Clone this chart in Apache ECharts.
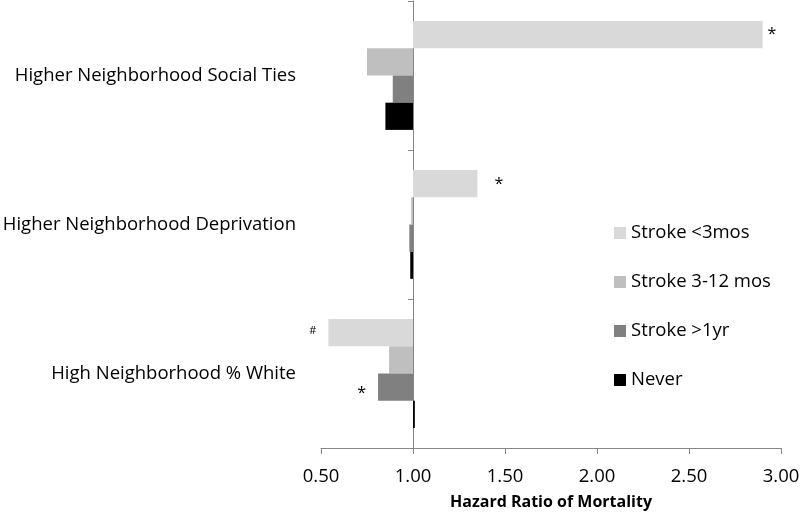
<!DOCTYPE html>
<html>
<head>
<meta charset="utf-8">
<script src="https://cdn.jsdelivr.net/npm/echarts@6/dist/echarts.min.js"></script>
<style>html,body{margin:0;padding:0;background:#fff}#c{width:800px;height:513px}</style>
</head>
<body>
<div id="c"></div>
<script>
// Categories (top to bottom)
var categories = ['Higher Neighborhood Social Ties', 'Higher Neighborhood Deprivation', 'High Neighborhood % White'];
var seriesNames = ['Stroke <3mos', 'Stroke 3-12 mos', 'Stroke >1yr', 'Never'];
// Hazard ratios of mortality
var hrStrokeLt3 = [2.90, 1.35, 0.54];
var hrStroke3to12 = [0.75, 0.99, 0.87];
var hrStrokeGt1 = [0.89, 0.98, 0.81];
var hrNever = [0.85, 0.985, 1.01];
// Significance marks
var markStrokeLt3 = ['*', '*', '#'];
var markStroke3to12 = ['', '', ''];
var markStrokeGt1 = ['', '', '*'];
var markNever = ['', '', ''];
// Axis ticks
var xTicks = [0.5, 1.0, 1.5, 2.0, 2.5, 3.0];
var baseline = 1.0;

var colors = ['#d9d9d9', '#bfbfbf', '#808080', '#000000'];
var allHr = [hrStrokeLt3, hrStroke3to12, hrStrokeGt1, hrNever];
var allMarks = [markStrokeLt3, markStroke3to12, markStrokeGt1, markNever];
// label placement style per [series][category]
var labelStyle = {
  '0-0': {distance: 5, offset: [0, 0]},
  '0-1': {distance: 17, offset: [0, 1]},
  '0-2': {distance: 12, offset: [0, -2]},
  '2-2': {distance: 12, offset: [0, 6]}
};
var FONT = 'Open Sans';

var series = allHr.map(function (arr, si) {
  return {
    name: seriesNames[si],
    type: 'bar',
    barGap: '0%',
    barCategoryGap: '27%',
    itemStyle: {color: colors[si]},
    data: arr.map(function (v, ci) {
      var m = allMarks[si][ci];
      var item = {value: v - baseline};
      if (m) {
        var st = labelStyle[si + '-' + ci] || {distance: 6, offset: [0, 0]};
        item.label = {
          show: true,
          formatter: m,
          position: v >= baseline ? 'right' : 'left',
          distance: st.distance,
          offset: st.offset,
          color: '#000',
          fontFamily: FONT,
          fontSize: m === '#' ? 11 : 16
        };
      }
      return item;
    })
  };
});

var chart = echarts.init(document.getElementById('c'), null, {renderer: 'canvas'});
chart.setOption({
  animation: false,
  backgroundColor: '#fff',
  grid: {left: 321, right: 19, top: 1, bottom: 65, containLabel: false, outerBoundsMode: 'none'},
  legend: {
    orient: 'vertical',
    left: 609,
    top: 217,
    itemWidth: 12,
    itemHeight: 12,
    itemGap: 27,
    icon: 'rect',
    data: seriesNames,
    textStyle: {fontFamily: FONT, fontSize: 18.5, lineHeight: 22, color: '#000', padding: [0, 0, 0, 0]}
  },
  xAxis: {
    type: 'value',
    min: xTicks[0] - baseline,
    max: xTicks[xTicks.length - 1] - baseline,
    interval: xTicks[1] - xTicks[0],
    splitLine: {show: false},
    axisLine: {show: true, lineStyle: {color: '#868686'}},
    axisTick: {show: true, length: 6, lineStyle: {color: '#868686'}},
    axisLabel: {
      formatter: function (v) { return (v + baseline).toFixed(2); },
      fontFamily: FONT, fontSize: 18.5, color: '#000', margin: 19
    },
    name: 'Hazard Ratio of Mortality',
    nameLocation: 'middle',
    nameGap: 46,
    nameTextStyle: {fontFamily: FONT, fontSize: 16, fontWeight: 'bold', color: '#000'}
  },
  yAxis: {
    type: 'category',
    inverse: true,
    data: categories,
    axisLine: {show: true, onZero: true, lineStyle: {color: '#868686'}},
    axisTick: {show: true, length: 5, lineStyle: {color: '#868686'}},
    axisLabel: {fontFamily: FONT, fontSize: 18.5, color: '#000', margin: 25}
  },
  series: series
});
</script>
</body>
</html>
